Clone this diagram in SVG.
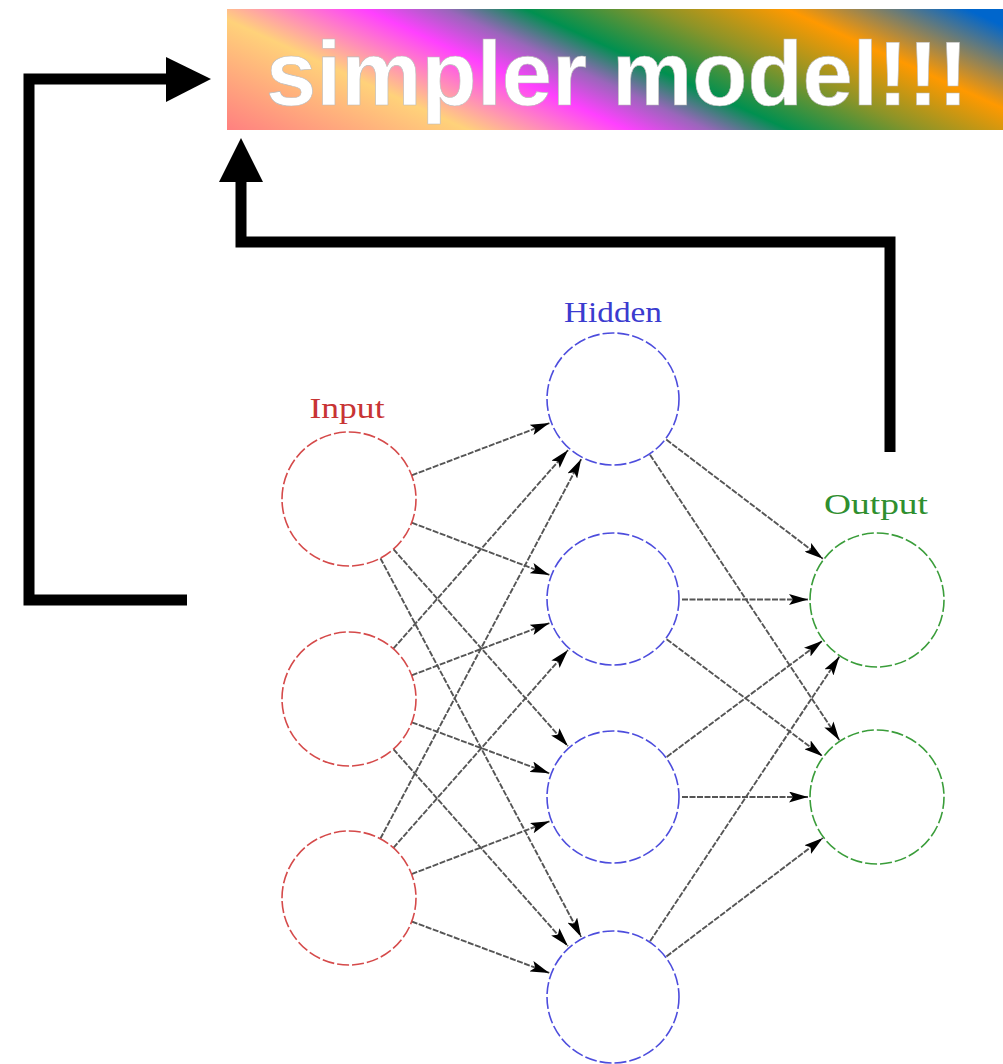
<svg xmlns="http://www.w3.org/2000/svg" width="1003" height="1064" viewBox="0 0 1003 1064">
<defs>
<linearGradient id="rainbow" gradientUnits="userSpaceOnUse" x1="227" y1="130" x2="401" y2="-250">
<stop offset="0" stop-color="#ff8080"/>
<stop offset="0.24" stop-color="#ffd27a"/>
<stop offset="0.40" stop-color="#ff40ff"/>
<stop offset="0.48" stop-color="#9a66bb"/>
<stop offset="0.56" stop-color="#009050"/>
<stop offset="0.69" stop-color="#8c9428"/>
<stop offset="0.82" stop-color="#ff9900"/>
<stop offset="1" stop-color="#0066cc"/>
</linearGradient>
<marker id="ah" markerUnits="userSpaceOnUse" markerWidth="19" markerHeight="11" refX="19" refY="5.5" orient="auto">
<path d="M0,0 L19,5.5 L0,11 L4,5.5 z" fill="#000"/>
</marker>
</defs>
<style>
.edge{stroke:#555;stroke-width:1.9;stroke-dasharray:6 1.5;fill:none;marker-end:url(#ah)}
.big{stroke:#000;stroke-width:11;fill:none;stroke-linejoin:miter;stroke-linecap:butt}
.node{fill:#fff;stroke-width:1.6;stroke-dasharray:12 3}
.in{stroke:#d54a4a}
.hid{stroke:#4d4ddd}
.out{stroke:#3a9d3a}
.lbl{font-family:"Liberation Serif",serif;font-size:30px;text-anchor:middle}
</style>
<rect width="1003" height="1064" fill="#fff"/>
<g id="title">
<rect x="227" y="9" width="776" height="121" fill="url(#rainbow)"/>
<text x="266" y="105" font-family="Liberation Sans, Arial, sans-serif" font-weight="bold" font-size="91" fill="#fff" stroke="#bbb" stroke-width="0.6" textLength="702" lengthAdjust="spacingAndGlyphs">simpler model!!!</text>
</g>
<g id="connectors">
<polyline class="big" points="187,600 29,600 29,79 166,79"/>
<polygon points="166,57 211,79 166,102" fill="#000"/>
<polyline class="big" points="890,452 890,242 241,242 241,182"/>
<polygon points="219,182 263,182 241,138" fill="#000"/>
<line class="edge" x1="411.7" y1="475.3" x2="549.4" y2="423.1"/>
<line class="edge" x1="411.7" y1="522.7" x2="549.4" y2="574.9"/>
<line class="edge" x1="393.4" y1="549.2" x2="567.9" y2="746.1"/>
<line class="edge" x1="380.4" y1="558.2" x2="581.2" y2="936.9"/>
<line class="edge" x1="393.3" y1="648.7" x2="568.1" y2="450.1"/>
<line class="edge" x1="411.7" y1="675.3" x2="549.4" y2="623.1"/>
<line class="edge" x1="411.8" y1="722.3" x2="549.3" y2="773.3"/>
<line class="edge" x1="393.4" y1="749.2" x2="567.9" y2="946.1"/>
<line class="edge" x1="380.3" y1="838.8" x2="581.2" y2="459.1"/>
<line class="edge" x1="393.4" y1="847.8" x2="568.0" y2="650.0"/>
<line class="edge" x1="411.6" y1="874.1" x2="549.5" y2="821.3"/>
<line class="edge" x1="411.7" y1="921.5" x2="549.3" y2="972.9"/>
<line class="edge" x1="666.3" y1="439.6" x2="822.9" y2="558.8"/>
<line class="edge" x1="650.0" y1="454.8" x2="839.4" y2="740.3"/>
<line class="edge" x1="682" y1="599.5" x2="808" y2="599.5"/>
<line class="edge" x1="666.6" y1="639.2" x2="822.6" y2="756.2"/>
<line class="edge" x1="666.7" y1="756.9" x2="822.5" y2="640.7"/>
<line class="edge" x1="682" y1="797" x2="808" y2="797"/>
<line class="edge" x1="650.1" y1="941.2" x2="839.4" y2="656.6"/>
<line class="edge" x1="666.4" y1="956.5" x2="822.8" y2="838.1"/>
</g>
<g id="input-1"><circle class="node in" cx="349" cy="499" r="67"/></g>
<g id="input-2"><circle class="node in" cx="349" cy="699" r="67"/></g>
<g id="input-3"><circle class="node in" cx="349" cy="898" r="67"/></g>
<g id="hidden-1"><circle class="node hid" cx="613" cy="399" r="66"/></g>
<g id="hidden-2"><circle class="node hid" cx="613" cy="599" r="66"/></g>
<g id="hidden-3"><circle class="node hid" cx="613" cy="797" r="66"/></g>
<g id="hidden-4"><circle class="node hid" cx="613" cy="997" r="66"/></g>
<g id="output-1"><circle class="node out" cx="877" cy="600" r="67"/></g>
<g id="output-2"><circle class="node out" cx="877" cy="797" r="67"/></g>
<g id="labels">
<text class="lbl" x="347" y="418" fill="#c83434" textLength="75" lengthAdjust="spacingAndGlyphs">Input</text>
<text class="lbl" x="613" y="322" fill="#3b3bcf" textLength="98" lengthAdjust="spacingAndGlyphs">Hidden</text>
<text class="lbl" x="876" y="514" fill="#2f8f2f" textLength="104" lengthAdjust="spacingAndGlyphs">Output</text>
</g>
</svg>
